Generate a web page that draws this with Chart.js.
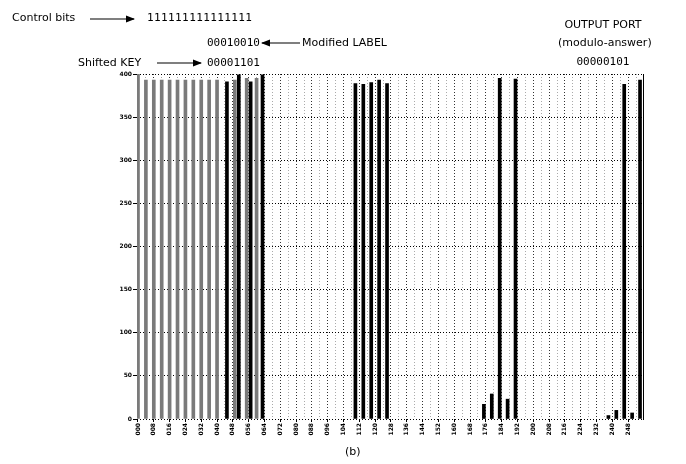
<!DOCTYPE html>
<html>
<head>
<meta charset="utf-8">
<script src="https://cdn.jsdelivr.net/npm/chart.js@4.4.0/dist/chart.umd.min.js"></script>
<style>
  body { margin: 0; background: #fff; }
  #wrap { position: relative; width: 686px; height: 464px; }
  #chart { position: absolute; left: 0; top: 0; }
  .t { position: absolute; font-family: "DejaVu Sans", sans-serif; font-size: 11px; color: #000; white-space: nowrap; line-height: 12px; }
  .m { font-family: "DejaVu Sans Mono", monospace; }
  svg { position: absolute; left: 0; top: 0; }
</style>
</head>
<body>
<div id="wrap">
  <canvas id="chart" width="686" height="464"></canvas>
  <svg width="686" height="80">
    <defs>
      <marker id="ah" markerWidth="8" markerHeight="6" refX="7" refY="3" orient="auto">
        <path d="M0,0 L8,3 L0,6 z" fill="#000"/>
      </marker>
    </defs>
    <!-- flèches des annotations -->
    <line x1="90" y1="19" x2="134" y2="19" stroke="#000" stroke-width="1.2" marker-end="url(#ah)"/>
    <line x1="300" y1="43" x2="262" y2="43" stroke="#000" stroke-width="1.2" marker-end="url(#ah)"/>
    <line x1="157" y1="63" x2="201" y2="63" stroke="#000" stroke-width="1.2" marker-end="url(#ah)"/>
  </svg>
  <div class="t" style="left:12px;top:12px;">Control bits</div>
  <div class="t m" style="left:147px;top:12px;letter-spacing:0.4px;">111111111111111</div>
  <div class="t m" style="left:207px;top:37px;">00010010</div>
  <div class="t" style="left:302px;top:37px;">Modified LABEL</div>
  <div class="t" style="left:78px;top:57px;">Shifted KEY</div>
  <div class="t m" style="left:207px;top:57px;">00001101</div>
  <div class="t" style="left:562px;top:19px;width:82px;text-align:center;">OUTPUT PORT</div>
  <div class="t" style="left:558px;top:37px;width:90px;text-align:center;">(modulo-answer)</div>
  <div class="t m" style="left:562px;top:56px;width:82px;text-align:center;">00000101</div>
  <div class="t" style="left:345px;top:446px;">(b)</div>
</div>

<script>
// valeurs (indice de la case 0..255 -> hauteur)
const grayIdx  = [0, 4, 8, 12, 16, 20, 24, 28, 32, 36, 40, 49, 55, 60];
const grayVals = [400, 393, 393, 393, 393, 393, 393, 393, 393, 393, 393, 393, 395, 395];

const blackIdx  = [45, 51, 57, 63, 110, 114, 118, 122, 126, 175, 179, 183, 187, 191, 238, 242, 246, 250, 254];
const blackVals = [391, 399, 391, 399, 389, 388, 390, 393, 389, 17, 29, 395, 23, 394, 4, 10, 388, 7, 393];

// étiquettes de l'axe x (une toutes les 8 cases)
const tickLabels = ['000','008','016','024','032','040','048','056','064','072','080','088','096','104','112','120',
                    '128','136','144','152','160','168','176','184','192','200','208','216','224','232','240','248'];
const yTicks = [0, 50, 100, 150, 200, 250, 300, 350, 400];

const categories = [];
for (let i = 0; i < 256; i++) categories.push(String(i));

const grayData = categories.map(() => null);
grayIdx.forEach((k, j) => grayData[k] = grayVals[j]);
const blackData = categories.map(() => null);
blackIdx.forEach((k, j) => blackData[k] = blackVals[j]);

const ctx = document.getElementById('chart').getContext('2d');

new Chart(ctx, {
    type: 'bar',
    data: {
        labels: categories,
        datasets: [
            { data: grayData, backgroundColor: '#7a7a7a', barThickness: 3, grouped: false },
            { data: blackData, backgroundColor: '#000', barThickness: 3, grouped: false }
        ]
    },
    options: {
        responsive: false,
        animation: false,
        layout: { padding: { top: 74, right: 43, bottom: 25, left: 0 } },
        plugins: { legend: { display: false }, tooltip: { enabled: false } },
        scales: {
            x: {
                afterFit: s => { s.height = 20; },
                border: { display: false, dash: [1, 2] },
                grid: {
                    offset: false,
                    tickLength: 3,
                    color: c => c.index % 8 === 0 ? '#333' : (c.index % 4 === 0 ? '#aaa' : 'rgba(0,0,0,0)'),
                    tickColor: c => c.index % 8 === 0 ? '#000' : 'rgba(0,0,0,0)'
                },
                ticks: {
                    autoSkip: false,
                    minRotation: 90,
                    maxRotation: 90,
                    padding: 1,
                    color: '#000',
                    font: { family: 'DejaVu Sans', size: 6, weight: 'bold' },
                    callback: (v, i) => i % 8 === 0 ? tickLabels[i / 8] : ''
                }
            },
            y: {
                min: 0,
                max: 400,
                afterFit: s => { s.width = 137; },
                afterBuildTicks: s => { s.ticks = yTicks.map(v => ({ value: v })); },
                border: { display: false, dash: [1, 2] },
                grid: { color: '#000', tickLength: 4, tickColor: '#000' },
                ticks: {
                    padding: 1,
                    color: '#000',
                    font: { family: 'DejaVu Sans', size: 6, weight: 'bold' }
                }
            },
            y2: {
                position: 'right',
                min: 0,
                max: 400,
                afterFit: s => { s.width = 0; },
                border: { display: true, color: '#000', width: 1 },
                grid: { drawOnChartArea: false, drawTicks: false },
                ticks: { display: false }
            }
        }
    }
});
</script>
</body>
</html>
